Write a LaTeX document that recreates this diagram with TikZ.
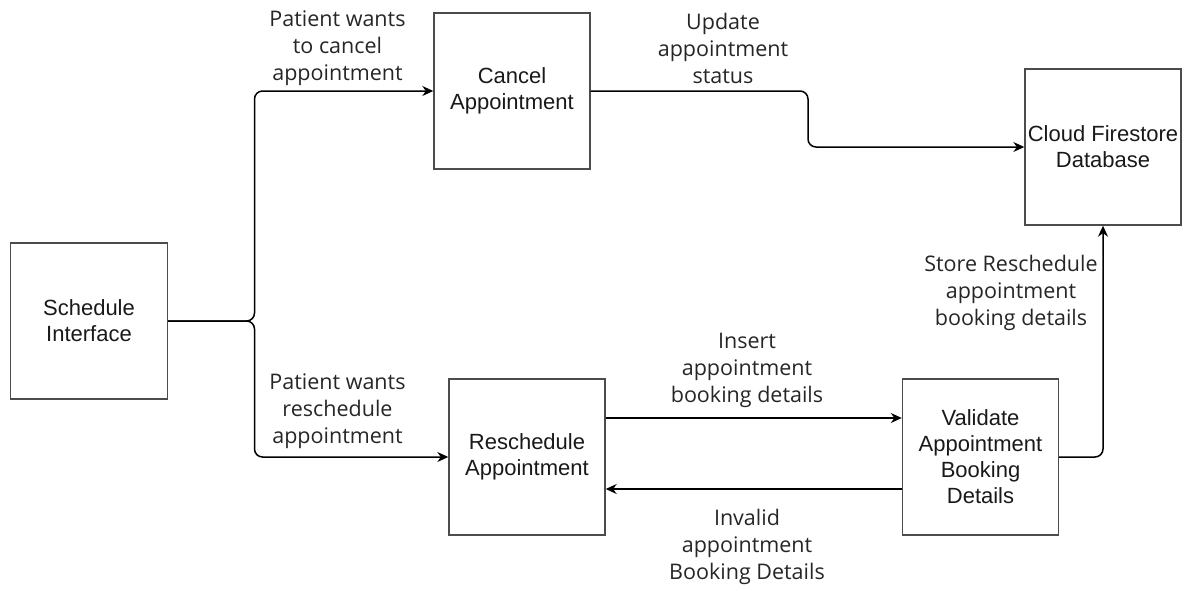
\documentclass[tikz,border=0pt]{standalone}
\usepackage{fontspec}
\setmainfont{Liberation Sans}
\newfontfamily\labelfont{Open Sans}
\usetikzlibrary{arrows.meta,calc}

\begin{document}
\begin{tikzpicture}[x=1pt,y=-1pt,
  procbox/.style={draw=black!70, line width=1.4pt, minimum width=156pt, minimum height=156pt,
    inner sep=0pt, align=center, text=black!90, font=\fontsize{22}{26}\selectfont},
  flow/.style={draw=black, line width=1.5pt, rounded corners=8pt,
    -{Stealth[length=11pt,width=10pt]}},
  flowlabel/.style={align=center, text=black!85, inner sep=0pt,
    font=\labelfont\fontsize{21.5}{27}\selectfont}]

  \useasboundingbox (0,0) rectangle (1187,590);

  % process boxes
  \node[procbox, minimum width=157pt] (sched) at (89,321) {Schedule\\Interface};
  \node[procbox] (cancel) at (512,91) {Cancel\\Appointment};
  \node[procbox] (cloud) at (1103,147) {Cloud Firestore\\Database};
  \node[procbox] (resched) at (527,457) {Reschedule\\Appointment};
  \node[procbox] (validate) at (980.5,457) {Validate\\Appointment\\Booking\\Details};

  % bend points
  \coordinate (split) at (254.5,321);
  \coordinate (upd) at (808,91);

  % connectors
  \draw[flow] (sched.east) -- (split) |- (cancel.west);
  \draw[flow] (sched.east) -- (split) |- (resched.west);
  \draw[flow] (cancel.east) -- (upd) |- (cloud.west);
  \draw[flow] ([yshift=39pt]resched.east) -- ([yshift=39pt]validate.west);
  \draw[flow] ([yshift=-32pt]validate.west) -- ([yshift=-32pt]resched.east);
  \draw[flow] (validate.east) -| (cloud.south);

  % connector labels
  \node[flowlabel] (lcancel) at (337.5,48) {Patient wants\\to cancel\\appointment};
  \node[flowlabel] (lupdate) at (723,48) {Update\\appointment\\status};
  \node[flowlabel] (lstore) at (1011,293) {Store Reschedule\\appointment\\booking details};
  \node[flowlabel] (linsert) at (747,370) {Insert\\appointment\\booking details};
  \node[flowlabel] (linvalid) at (747,547) {Invalid\\appointment\\Booking Details};
  \node[flowlabel] (lresched) at (337.5,411) {Patient wants\\reschedule\\appointment};
\end{tikzpicture}
\end{document}
